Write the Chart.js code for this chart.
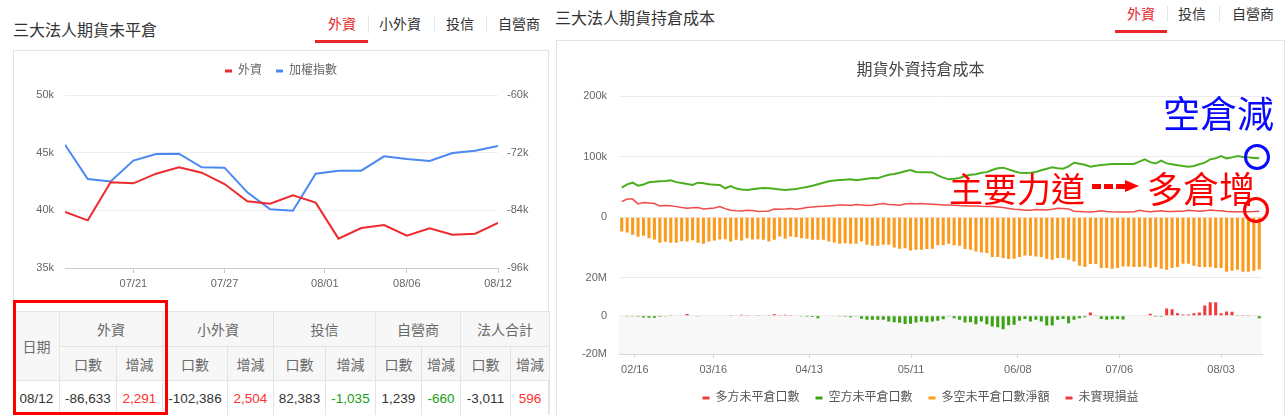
<!DOCTYPE html>
<html><head><meta charset="utf-8">
<script src="https://cdn.jsdelivr.net/npm/chart.js@4.4.1/dist/chart.umd.min.js"></script>
<style>
html,body{margin:0;padding:0;background:#fff;}
body{width:1286px;height:415px;overflow:hidden;position:relative;font-family:"Noto Sans CJK TC","Liberation Sans",sans-serif;color:#333;}
.abs{position:absolute;}
.ttl{font-size:16px;line-height:1;color:#333;white-space:nowrap;}
.tab{font-size:14px;line-height:1;color:#333;white-space:nowrap;}
.tab.on{color:#e8262b;}
.sep{width:1px;background:#e6e6e6;}
.uline{height:3px;background:#e8262b;}
.card{border:1px solid #e3e3e3;box-sizing:border-box;}
table{border-collapse:collapse;table-layout:fixed;}
td{border:1px solid #e4e4e4;text-align:center;padding:0;font-size:14px;white-space:nowrap;}
tr.hd td{background:#f7f7f8;color:#6a6a6a;}
tr.dt td{font-family:"Liberation Sans","Noto Sans CJK TC",sans-serif;font-size:13.5px;color:#333;}
td.up{color:#ff3030 !important;}
td.dn{color:#1a9e1a !important;}
.note{line-height:1;white-space:nowrap;}
</style></head>
<body>
<!-- left panel header -->
<div class="abs ttl" style="left:13px;top:21px;">三大法人期貨未平倉</div>
<div class="abs tab on" style="left:328px;top:16px;">外資</div>
<div class="abs sep" style="left:368px;top:15px;height:18px;"></div>
<div class="abs tab" style="left:379px;top:16px;">小外資</div>
<div class="abs sep" style="left:434px;top:15px;height:18px;"></div>
<div class="abs tab" style="left:446px;top:16px;">投信</div>
<div class="abs sep" style="left:486px;top:15px;height:18px;"></div>
<div class="abs tab" style="left:498px;top:16px;">自營商</div>
<div class="abs uline" style="left:315px;top:40px;width:53px;"></div>
<div class="abs card" style="left:13px;top:50px;width:536px;height:400px;"></div>
<canvas id="c1" class="abs" style="left:14px;top:51px;" width="534" height="246"></canvas>
<table id="tbl" class="abs" style="left:13px;top:311px;width:536px;"></table>
<div class="abs" style="left:13px;top:300px;width:155px;height:115px;border:3px solid #ff0000;box-sizing:border-box;"></div>

<!-- right panel header -->
<div class="abs ttl" style="left:555px;top:9px;">三大法人期貨持倉成本</div>
<div class="abs tab on" style="left:1127px;top:6px;">外資</div>
<div class="abs sep" style="left:1167px;top:6px;height:16px;"></div>
<div class="abs tab" style="left:1178px;top:6px;">投信</div>
<div class="abs sep" style="left:1219px;top:6px;height:16px;"></div>
<div class="abs tab" style="left:1232px;top:6px;">自營商</div>
<div class="abs uline" style="left:1115px;top:30px;width:52px;"></div>
<div class="abs card" style="left:556px;top:40px;width:729px;height:400px;"></div>
<canvas id="c2" class="abs" style="left:557px;top:41px;" width="727" height="374"></canvas>

<!-- hand-drawn annotations -->
<div class="abs note" style="left:1163px;top:94px;font-size:37px;color:#0a0aff;">空倉減</div>
<div class="abs" style="left:1244px;top:144px;width:26px;height:26px;border:3px solid #0a0aff;border-radius:50%;box-sizing:border-box;"></div>
<div class="abs note" style="left:949px;top:171px;font-size:34px;color:#ff0000;">主要力道</div>
<div class="abs" style="left:1092px;top:184px;width:33px;height:5px;background:repeating-linear-gradient(90deg,#ff0000 0 9px,transparent 9px 12px);"></div>
<div class="abs" style="left:1125px;top:180px;width:0;height:0;border-left:14px solid #ff0000;border-top:6.5px solid transparent;border-bottom:6.5px solid transparent;"></div>
<div class="abs note" style="left:1147px;top:169px;font-size:36px;color:#ff0000;">多倉增</div>
<div class="abs" style="left:1243px;top:197px;width:26px;height:26px;border:3px solid #ff0000;border-radius:50%;box-sizing:border-box;"></div>

<script>
// ---------------- left chart data ----------------
const leftTickPos = [3, 7, 11.4, 15, 19];
const leftTickLabels = ['07/21', '07/27', '08/01', '08/06', '08/12'];
const foreignOI = [-84.33, -86.08, -78.17, -78.38, -76.37, -75.06, -76.16, -78.52, -82.13, -82.61,
                   -80.88, -82.40, -89.89, -87.67, -87.05, -89.26, -87.74, -89.06, -88.85, -86.63];
const taiexLine = [45.69, 42.72, 42.51, 44.31, 44.88, 44.91, 43.73, 43.70, 41.56, 40.09,
                   39.97, 43.18, 43.44, 43.44, 44.68, 44.45, 44.28, 44.97, 45.17, 45.58];

// ---------------- table data ----------------
const tableGroups = ['外資', '小外資', '投信', '自營商', '法人合計'];
const tableDate = '08/12';
const tableOI = ['-86,633', '-102,386', '82,383', '1,239', '-3,011'];
const tableChg = ['2,291', '2,504', '-1,035', '-660', '596'];
const tableColW = [46, 57, 46, 65, 46, 52, 50, 46, 39, 50, 39];

// ---------------- right chart data ----------------
const rightTickPos = [2.4, 16.8, 34.4, 53.1, 72.7, 91.3, 110.0];
const rightTickLabels = ['02/16', '03/16', '04/13', '05/11', '06/08', '07/06', '08/03'];
const longOI = [ // 多方未平倉口數 (k)
  25.8, 30, 30, 22, 24.2, 23.5, 22.5, 18.7, 19.5, 19, 17.5, 15.9, 14.8, 15.5, 15.9, 13.7, 14.5, 15.4, 17.6, 14, 11.5, 10.8, 10.4, 11.5, 11,
  9.5, 9.8, 10.4, 13.5, 13, 13.5, 14.3, 13.2, 14.5, 15.9, 16.8, 17.6, 18, 18.7, 19.3, 20, 20.3, 19.2, 20.9, 20, 19.2, 19.8, 21.5, 22.5, 20.9, 20.5, 19.8, 22, 22.5,
  22.3, 22.5, 22, 21.5, 21, 20.3, 20, 19.8, 19.3, 19, 18.7, 18.4, 18, 17.8, 17.6, 17, 15.9, 14.5, 13.2, 12.6, 11.5, 11.5, 12.6, 12.4, 12.1, 13, 14.8, 14.3, 13.7,
  10, 9.5, 9, 8.8, 9.5, 10.5, 9.5, 9, 8.8, 8.5, 8.8, 9, 11.5, 10, 9, 10, 10.5, 9.5, 9.5, 9.8, 10, 11.5, 10.5, 9.8, 10.5, 12, 11, 10.5, 9.5, 9, 9, 9, 9.2, 9.5, 10
];
const shortOI = [ // 空方未平倉口數 (k)
  48.9, 54.4, 57.1, 52.2, 54, 57.7, 58.5, 59.3, 60, 61, 58, 56.5, 55, 53.3, 57.1, 56, 54.4, 53.8, 53.3, 47.8, 51.6, 47.3, 46, 45, 46.2,
  47.5, 48.4, 47.8, 46.9, 46, 45, 45.8, 46.8, 48.5, 50, 52, 54.5, 57, 59.3, 60.5, 61.5, 62, 62.6, 61, 62.3, 63.7, 64.8, 64.3, 67.5, 70.3, 71.5, 73.5, 76, 78,
  74.7, 74.5, 74.2, 74, 69, 65.4, 62.6, 63.5, 64.8, 68.1, 70, 70.9, 73.6, 74.5, 78, 80.8, 81.9, 79, 76, 73.5, 73, 73.6, 74.7, 77.5, 80.2, 82.4, 81, 80.2, 84,
  90, 88.5, 86.8, 83.5, 85, 86.3, 87, 87.9, 87.9, 87.9, 87.9, 88, 91.8, 95.6, 91, 89, 93.4, 89, 87.5, 86, 84.6, 83.5, 84.6, 87.5, 90.1, 95.6, 97.3, 101, 97.3, 98.9, 101, 99.5, 98.9, 98, 97.3
];
const netOI = [ // 多空未平倉口數淨額 (k)
  -23.6, -25.3, -29.1, -32.4, -30.8, -34.6, -36.8, -42.3, -40.7, -42.3, -42.3, -39.6, -40.1, -37.9, -42.3, -44.0, -40.1, -38.5, -36.8, -36.3, -40.1, -37.4, -38.5, -34.6, -36.8,
  -36.3, -37.4, -40.1, -37.4, -31.9, -35.7, -31.9, -33, -34.6, -35.7, -37.4, -37.4, -37.4, -40.1, -41.8, -44, -42.9, -44, -44, -40.1, -45.6, -47.3, -47.3, -45.6, -45.6, -50, -52.2, -51.1, -55,
  -53.8, -53.8, -52.7, -52.2, -46.2, -46.2, -44, -46.2, -47.3, -52.7, -53.8, -56.6, -58.2, -59.3, -65.9, -65.9, -67.6, -69.2, -68.7, -65.9, -63.2, -63.7, -64.8, -65.9, -68.7, -70.3, -67.6, -67.6, -70.3,
  -73.1, -80.2, -82.4, -77.5, -77.5, -84.1, -84.1, -85.2, -84.1, -81.3, -81.3, -82.4, -82.4, -81.3, -84.1, -82.4, -85.2, -86.8, -84.1, -82.4, -76.9, -76.9, -80.2, -82.4, -82.4, -82.4, -84.1, -84.1, -90.1, -88.5, -86.8, -90.1, -90.1, -88.5, -86.6
];
const pnl = [ // 未實現損益 (M)
  -0.2, -0.3, -0.3, -0.4, -0.8, -1.0, -1.0, -0.5, -0.3, 0.2, 0, 0, 1.0, 0.3, -0.3, 0, 0, 0, 0, 0, 0.2, 0.3, 0.6, 0.5, 0.3,
  0.2, 0.3, 0.4, 0.8, 0.2, 0.6, 0.2, -0.2, -0.3, -0.4, -0.6, -1.2, 0, -0.2, 0, -0.3, -0.4, -0.7, -0.3, -1.5, -2.0, -2.1, -2.0, -2.0, -3.0, -3.4, -3.6, -4.3, -4.2,
  -3.5, -3.0, -3.3, -3.0, -2.6, -1.8, -0.1, -1.2, -2.1, -3.5, -3.3, -4.4, -3.0, -4.4, -5.6, -6.0, -7.0, -4.9, -4.7, -2.5, -1.6, -3.0, -2.1, -3.0, -5.1, -5.1, -2.1, -1.6, -3.9,
  -2.1, -1.2, -0.7, 1.8, 0.5, -1.6, -2.1, -1.8, -1.6, -1.9, 0, 0.3, 0, 0.3, 1.1, -0.5, -0.5, 3.9, 3.5, 1.4, 0.7, 0.7, 1.4, 1.8, 5.4, 7.2, 7.2, 1.4, 2.3, 2.1, 0.4, 0.5, 0.5, 0, -1.2
];

// ---------------- build table ----------------
(function () {
  const t = document.getElementById('tbl');
  let h = '<colgroup>' + tableColW.map(w => '<col style="width:' + w + 'px">').join('') + '</colgroup>';
  h += '<tr class="hd" style="height:35px"><td rowspan="2">日期</td>' + tableGroups.map(g => '<td colspan="2">' + g + '</td>').join('') + '</tr>';
  h += '<tr class="hd" style="height:34px">' + tableGroups.map(() => '<td>口數</td><td>增減</td>').join('') + '</tr>';
  h += '<tr class="dt" style="height:35px"><td>' + tableDate + '</td>' + tableGroups.map((g, i) => {
    const c = tableChg[i].charAt(0) === '-' ? 'dn' : 'up';
    return '<td>' + tableOI[i] + '</td><td class="' + c + '">' + tableChg[i] + '</td>';
  }).join('') + '</tr>';
  t.innerHTML = h;
})();

// ---------------- charts ----------------
Chart.defaults.font.family = "'Liberation Sans','Noto Sans CJK TC',sans-serif";
Chart.defaults.color = '#666';
const tickFont = { size: 11 };

function dashLegend(chart) {
  const items = Chart.defaults.plugins.legend.labels.generateLabels(chart);
  items.forEach(it => {
    const ds = chart.data.datasets[it.datasetIndex];
    it.fillStyle = ds.legendColor;
    it.strokeStyle = ds.legendColor;
    it.lineWidth = 0;
  });
  return items;
}
const legendGap = {
  id: 'legendGap',
  beforeInit(chart, args, opts) {
    const lg = chart.legend;
    if (!lg) return;
    const orig = lg.fit;
    lg.fit = function () { orig.call(this); this.height += (opts.extra || 0); };
  }
};

const leftIdx = foreignOI.map((_, i) => i);
new Chart(document.getElementById('c1'), {
  type: 'line',
  plugins: [legendGap],
  data: {
    labels: leftIdx,
    datasets: [
      { label: '外資', data: foreignOI, yAxisID: 'yR', borderColor: '#ee2a2e', legendColor: '#ee2a2e', borderWidth: 2, pointRadius: 0, tension: 0 },
      { label: '加權指數', data: taiexLine, yAxisID: 'yL', borderColor: '#4a88f2', legendColor: '#4a88f2', borderWidth: 2, pointRadius: 0, tension: 0 }
    ]
  },
  options: {
    responsive: false, animation: false,
    layout: { padding: { top: 0, left: 0, right: 0, bottom: 0 } },
    plugins: {
      legendGap: { extra: 8 },
      tooltip: { enabled: false },
      legend: { position: 'top', labels: { boxWidth: 7, boxHeight: 3, padding: 14, color: '#666', font: { size: 12 }, generateLabels: dashLegend } }
    },
    scales: {
      x: {
        type: 'linear', min: 0, max: leftIdx.length - 1, offset: false,
        afterBuildTicks: s => { s.ticks = leftTickPos.map(v => ({ value: v })); },
        afterFit: s => { s.height = 29; },
        ticks: { callback: (v, i) => leftTickLabels[i], autoSkip: false, maxRotation: 0, padding: 4, font: tickFont, color: '#666' },
        grid: { drawOnChartArea: false, drawTicks: true, tickLength: 5, color: '#cccccc' },
        border: { color: '#cccccc' }
      },
      yL: {
        position: 'left', min: 35, max: 50,
        afterFit: s => { s.width = 51; },
        ticks: { stepSize: 5, callback: v => v + 'k', padding: 11, font: tickFont, color: '#666' },
        grid: { color: '#eeeeee', drawTicks: false },
        border: { display: false }
      },
      yR: {
        position: 'right', min: -96, max: -60,
        afterFit: s => { s.width = 50; },
        ticks: { stepSize: 12, callback: v => v + 'k', padding: 9, font: tickFont, color: '#666' },
        grid: { drawOnChartArea: false, drawTicks: false },
        border: { display: false }
      }
    }
  }
});

const pnlBg = {
  id: 'pnlBg',
  beforeDraw(chart) {
    const { ctx, chartArea: a, scales } = chart;
    const y2 = scales.y2;
    const t = y2.getPixelForValue(0), b = y2.getPixelForValue(y2.min);
    ctx.save();
    ctx.fillStyle = '#f8f8f8';
    ctx.fillRect(a.left, t, a.right - a.left, b - t);
    ctx.restore();
  }
};

const rightIdx = netOI.map((_, i) => i);
const RED = '#ef3b3b', GREEN = '#3aa312';
new Chart(document.getElementById('c2'), {
  plugins: [pnlBg],
  data: {
    labels: rightIdx,
    datasets: [
      { type: 'line', label: '多方未平倉口數', data: longOI, yAxisID: 'y', borderColor: '#f04a4a', legendColor: '#f03c3c', borderWidth: 1.5, pointRadius: 0, tension: 0 },
      { type: 'line', label: '空方未平倉口數', data: shortOI, yAxisID: 'y', borderColor: '#4cae1e', legendColor: '#3aa312', borderWidth: 2, pointRadius: 0, tension: 0 },
      { type: 'bar', label: '多空未平倉口數淨額', data: netOI, yAxisID: 'y', backgroundColor: '#fb9a1c', legendColor: '#fb9a1c', grouped: false, barPercentage: 0.56, categoryPercentage: 1 },
      { type: 'bar', label: '未實現損益', data: pnl, yAxisID: 'y2', legendColor: RED, grouped: false, barPercentage: 0.56, categoryPercentage: 1,
        backgroundColor: c => (typeof c.raw === 'number' && c.raw < 0) ? GREEN : RED }
    ]
  },
  options: {
    responsive: false, animation: false,
    layout: { padding: { top: 0, left: 0, right: 0, bottom: 1 } },
    plugins: {
      tooltip: { enabled: false },
      title: { display: true, text: '期貨外資持倉成本', color: '#444', font: { size: 16, weight: 'normal' }, padding: { top: 20, bottom: 16 } },
      legend: { position: 'bottom', labels: { boxWidth: 7, boxHeight: 3, padding: 16, color: '#555', font: { size: 12 }, generateLabels: dashLegend } }
    },
    scales: {
      x: {
        type: 'linear', min: -0.5, max: rightIdx.length - 0.5, offset: false,
        afterBuildTicks: s => { s.ticks = rightTickPos.map(v => ({ value: v })); },
        afterFit: s => { s.height = 22; },
        ticks: { callback: (v, i) => rightTickLabels[i], autoSkip: false, maxRotation: 0, padding: 5, font: tickFont, color: '#666' },
        grid: { drawOnChartArea: false, drawTicks: true, tickLength: 4, color: '#d6d6d6', offset: false },
        border: { color: '#d6d6d6' }
      },
      y: {
        position: 'left', stack: 'cost', stackWeight: 2.38, weight: 1,
        min: -100, max: 200,
        afterFit: s => { s.width = 62; },
        ticks: { stepSize: 100, padding: 12, font: tickFont, color: '#666', callback: v => v === -100 ? '' : (v === 0 ? '0' : v + 'k') },
        grid: { color: '#ececec', drawTicks: false },
        border: { display: false }
      },
      y2: {
        position: 'left', stack: 'cost', stackWeight: 1, weight: 0,
        min: -20, max: 20,
        afterFit: s => { s.width = 62; },
        ticks: { stepSize: 20, padding: 12, font: tickFont, color: '#666', callback: v => v === 0 ? '0' : v + 'M' },
        grid: { color: '#ececec', drawTicks: false },
        border: { display: false }
      },
      yPad: {
        position: 'right', display: true,
        afterFit: s => { s.width = 22; },
        ticks: { display: false },
        grid: { display: false },
        border: { display: false }
      }
    }
  }
});
</script>
</body></html>
